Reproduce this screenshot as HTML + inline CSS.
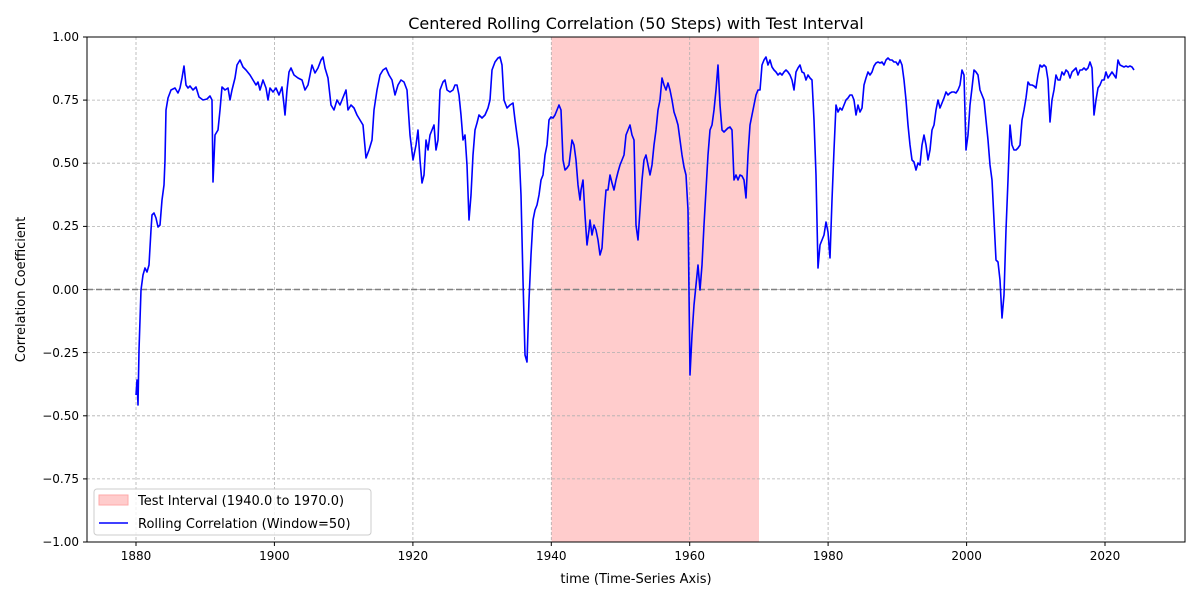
<!DOCTYPE html>
<html><head><meta charset="utf-8"><style>
body{margin:0;background:#fff;}
svg{display:block;font-family:"DejaVu Sans","Liberation Sans",sans-serif;}
</style></head><body>
<svg width="1200" height="600" viewBox="0 0 1200 600" xmlns="http://www.w3.org/2000/svg">
<rect width="1200" height="600" fill="#fff"/>
<rect x="551.5" y="37" width="207.5" height="505" fill="#ffcccc"/>
<g stroke="#b0b0b0" stroke-width="0.8" stroke-dasharray="3,2" fill="none">
<line x1="136" y1="37" x2="136" y2="542"/><line x1="274.4" y1="37" x2="274.4" y2="542"/><line x1="412.9" y1="37" x2="412.9" y2="542"/><line x1="551.3" y1="37" x2="551.3" y2="542"/><line x1="689.7" y1="37" x2="689.7" y2="542"/><line x1="828.1" y1="37" x2="828.1" y2="542"/><line x1="966.6" y1="37" x2="966.6" y2="542"/><line x1="1105" y1="37" x2="1105" y2="542"/>
<line x1="87" y1="100.1" x2="1185" y2="100.1"/><line x1="87" y1="163.2" x2="1185" y2="163.2"/><line x1="87" y1="226.4" x2="1185" y2="226.4"/><line x1="87" y1="289.5" x2="1185" y2="289.5"/><line x1="87" y1="352.6" x2="1185" y2="352.6"/><line x1="87" y1="415.8" x2="1185" y2="415.8"/><line x1="87" y1="478.9" x2="1185" y2="478.9"/>
</g>
<line x1="87" y1="289.5" x2="1185" y2="289.5" stroke="#808080" stroke-width="1.5" stroke-dasharray="6,3"/>
<polyline fill="none" stroke="#0000ff" stroke-width="1.6" stroke-linejoin="round" points="136,395 137,380 138,405 139,350 141,290 143,275 145,268 147,272 149,265 151,230 152,215 154,213 156,218 158,227 160,225 162,200 164,185 165,160 166,110 168,98 171,90 175,88 178,93 180,88 182,78 184,66 186,85 188,88 190,86 193,90 196,87 199,97 203,100 207,99 210,96 212,100 213,182 215,135 218,130 220,110 222,87 225,90 228,88 230,100 232,90 235,78 237,65 240,60 243,67 246,70 250,75 253,80 256,85 258,82 260,90 263,80 266,88 268,100 270,88 273,92 276,88 279,95 282,87 284,105 285,115 287,90 289,72 291,68 294,75 298,78 302,80 305,90 308,85 310,75 312,65 315,73 318,68 321,60 323,57 325,68 328,78 331,105 334,110 337,100 340,105 342,100 344,95 346,90 348,110 351,105 354,108 357,115 360,120 363,125 366,158 369,150 372,140 374,110 377,90 380,75 383,70 386,68 389,75 392,80 395,95 398,85 401,80 404,82 407,90 410,135 413,160 416,145 418,130 420,160 422,183 424,175 426,140 428,150 430,135 432,130 434,125 436,150 438,140 440,90 443,82 445,80 447,90 450,92 453,90 455,85 457,85 459,95 461,115 463,140 465,135 467,165 469,220 471,195 473,155 475,130 477,123 479,115 482,118 485,115 488,108 490,100 492,70 495,62 498,58 500,57 502,65 504,100 507,108 510,105 513,103 515,120 517,135 519,150 521,195 523,280 525,355 527,362 529,300 531,255 533,220 535,210 537,205 539,195 541,180 543,175 545,155 547,145 549,120 551,117 553,118 555,115 557,110 559,105 561,110 563,160 565,170 567,168 569,165 572,140 574,145 576,160 578,185 580,200 581,190 583,180 585,215 587,245 589,230 590,220 592,235 594,225 596,230 598,240 600,255 602,248 604,215 606,190 608,190 610,175 612,183 614,190 616,180 618,172 620,165 622,160 624,155 626,135 628,130 630,125 632,135 634,140 636,225 638,240 640,210 642,180 644,160 646,155 648,165 650,175 652,165 654,145 656,130 658,110 660,100 662,78 664,85 666,90 668,83 670,90 672,100 674,112 676,118 678,125 680,140 682,155 684,167 686,175 688,210 690,375 692,335 694,305 696,285 698,265 700,290 702,265 704,225 706,190 708,155 710,130 712,125 714,110 716,90 718,65 720,105 722,130 724,132 726,130 728,128 730,127 732,130 734,180 736,175 738,180 740,175 742,176 744,180 746,198 748,155 750,125 752,115 754,105 756,95 758,90 760,90 762,65 764,60 766,57 768,65 770,60 772,67 774,70 776,72 778,75 780,73 782,75 784,72 786,70 788,72 790,75 792,80 794,90 796,72 798,68 800,65 802,72 804,73 806,80 808,75 810,78 812,80 814,120 816,175 818,268 820,245 822,240 824,235 826,222 828,232 830,258 832,200 834,150 836,105 838,112 840,108 842,110 844,105 846,100 848,98 850,95 852,95 854,100 856,115 858,105 860,112 862,108 864,85 866,78 868,72 870,75 872,72 874,66 876,63 878,62 880,63 882,62 884,65 886,60 888,58 890,60 892,60 894,62 896,62 898,65 900,60 902,65 904,80 906,100 908,125 910,145 912,160 914,162 916,170 918,163 920,165 922,145 924,135 926,145 928,160 930,150 932,130 934,125 936,110 938,100 940,108 942,103 944,98 946,92 948,95 950,93 952,92 954,92 956,93 958,90 960,85 962,70 964,75 966,150 968,135 970,105 972,88 974,70 976,72 978,75 980,90 982,95 984,100 986,120 988,140 990,165 992,180 994,220 996,260 998,262 1000,280 1002,318 1004,295 1006,230 1008,180 1010,125 1012,145 1014,150 1016,150 1018,148 1020,145 1022,120 1024,110 1026,98 1028,82 1030,85 1032,85 1034,86 1036,88 1038,75 1040,65 1042,67 1044,65 1046,67 1048,80 1050,122 1052,100 1054,90 1056,75 1058,80 1060,80 1062,72 1064,75 1066,70 1068,72 1070,78 1072,72 1074,70 1076,68 1078,75 1080,70 1082,70 1084,68 1086,70 1088,68 1090,62 1092,68 1094,115 1096,100 1098,88 1100,85 1102,80 1104,80 1106,72 1108,78 1110,75 1112,72 1114,75 1116,78 1118,60 1120,65 1122,66 1124,67 1126,66 1128,67 1130,66 1132,67 1134,70"/>
<rect x="87" y="37" width="1098" height="505" fill="none" stroke="#000" stroke-width="1"/>
<g stroke="#000" stroke-width="1">
<line x1="136" y1="542" x2="136" y2="546"/><line x1="274.4" y1="542" x2="274.4" y2="546"/><line x1="412.9" y1="542" x2="412.9" y2="546"/><line x1="551.3" y1="542" x2="551.3" y2="546"/><line x1="689.7" y1="542" x2="689.7" y2="546"/><line x1="828.1" y1="542" x2="828.1" y2="546"/><line x1="966.6" y1="542" x2="966.6" y2="546"/><line x1="1105" y1="542" x2="1105" y2="546"/>
<line x1="83" y1="37" x2="87" y2="37"/><line x1="83" y1="100.1" x2="87" y2="100.1"/><line x1="83" y1="163.2" x2="87" y2="163.2"/><line x1="83" y1="226.4" x2="87" y2="226.4"/><line x1="83" y1="289.5" x2="87" y2="289.5"/><line x1="83" y1="352.6" x2="87" y2="352.6"/><line x1="83" y1="415.8" x2="87" y2="415.8"/><line x1="83" y1="478.9" x2="87" y2="478.9"/><line x1="83" y1="542" x2="87" y2="542"/>
</g>
<g font-size="12" fill="#000" text-anchor="middle">
<text x="136" y="560">1880</text><text x="274.4" y="560">1900</text><text x="412.9" y="560">1920</text><text x="551.3" y="560">1940</text><text x="689.7" y="560">1960</text><text x="828.1" y="560">1980</text><text x="966.6" y="560">2000</text><text x="1105" y="560">2020</text>
</g>
<g font-size="12" fill="#000" text-anchor="end">
<text x="79" y="41">1.00</text><text x="79" y="104">0.75</text><text x="79" y="167">0.50</text><text x="79" y="230">0.25</text><text x="79" y="294">0.00</text><text x="79" y="357">−0.25</text><text x="79" y="420">−0.50</text><text x="79" y="483">−0.75</text><text x="79" y="546">−1.00</text>
</g>
<text x="636" y="583" font-size="13" text-anchor="middle">time (Time-Series Axis)</text>
<text x="25" y="289.5" font-size="13" text-anchor="middle" transform="rotate(-90 25 289.5)">Correlation Coefficient</text>
<text x="636" y="29" font-size="16" text-anchor="middle">Centered Rolling Correlation (50 Steps) with Test Interval</text>
<rect x="94" y="489" width="277" height="46" rx="3" fill="#fff" fill-opacity="0.8" stroke="#ccc"/>
<rect x="99" y="495" width="29" height="10" fill="#ffcccc" stroke="#ffaaaa"/>
<text x="138" y="505" font-size="13">Test Interval (1940.0 to 1970.0)</text>
<line x1="99" y1="523" x2="128" y2="523" stroke="#0000ff" stroke-width="1.6"/>
<text x="138" y="528" font-size="13">Rolling Correlation (Window=50)</text>
</svg>
</body></html>
